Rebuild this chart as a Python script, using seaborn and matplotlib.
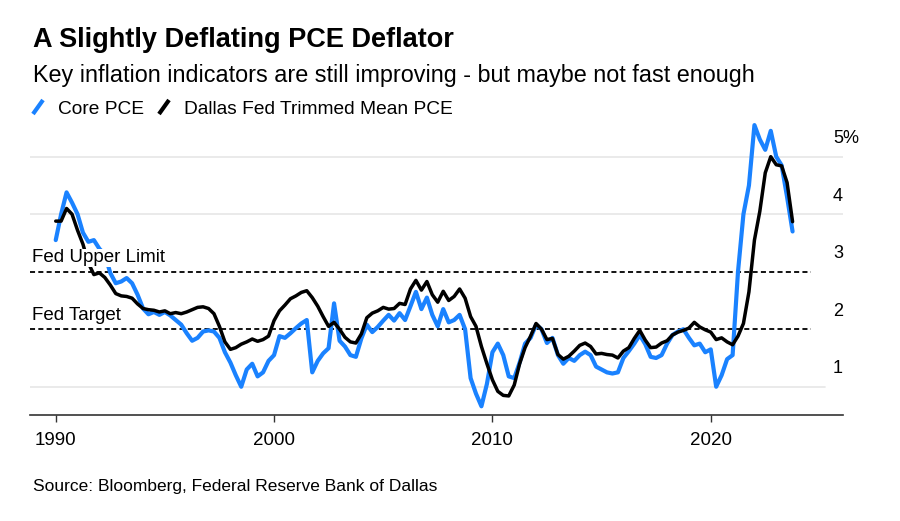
import pandas as pd
import matplotlib.pyplot as plt
import matplotlib.transforms as mtransforms
from matplotlib.lines import Line2D
import seaborn as sns

# quarterly readings, 1990Q1 .. 2023Q4 (year-over-year %)
quarters = pd.date_range('1990-01-01', '2023-10-01', freq='QS')

core_pce = [
    3.55, 4.00, 4.38, 4.20,  # 1990
    4.00, 3.68, 3.52, 3.55,
    3.40, 3.30, 2.98, 2.80,
    2.83, 2.89, 2.80, 2.60,
    2.36, 2.26, 2.30, 2.25,
    2.30, 2.24, 2.16, 2.08,  # 1995
    1.93, 1.80, 1.85, 1.96,
    1.98, 1.96, 1.85, 1.60,
    1.42, 1.20, 1.00, 1.30,
    1.40, 1.18, 1.25, 1.45,
    1.55, 1.88, 1.85, 1.93,  # 2000
    2.02, 2.10, 2.16, 1.25,
    1.45, 1.58, 1.67, 2.45,
    1.80, 1.70, 1.55, 1.52,
    1.84, 2.08, 1.95, 2.04,
    2.15, 2.25, 2.15, 2.28,  # 2005
    2.16, 2.40, 2.65, 2.35,
    2.55, 2.25, 2.05, 2.35,
    2.12, 2.16, 2.25, 2.00,
    1.15, 0.88, 0.66, 1.05,
    1.60, 1.75, 1.55, 1.18,  # 2010
    1.15, 1.42, 1.75, 1.85,
    2.08, 2.00, 1.76, 1.85,
    1.55, 1.40, 1.50, 1.45,
    1.55, 1.61, 1.55, 1.35,
    1.30, 1.25, 1.23, 1.25,  # 2015
    1.50, 1.62, 1.75, 1.90,
    1.74, 1.52, 1.50, 1.55,
    1.75, 1.90, 1.96, 2.00,
    1.85, 1.72, 1.75, 1.60,
    1.65, 1.00, 1.20, 1.48,  # 2020
    1.55, 3.00, 4.00, 4.50,
    5.55, 5.30, 5.12, 5.45,
    5.00, 4.85, 4.30, 3.70,
]

trimmed_mean = [
    3.88, 3.88, 4.10, 4.00,  # 1990
    3.72, 3.48, 3.15, 2.95,
    2.98, 2.90, 2.77, 2.62,
    2.58, 2.57, 2.54, 2.44,
    2.36, 2.34, 2.33, 2.30,
    2.32, 2.27, 2.29, 2.27,  # 1995
    2.30, 2.34, 2.38, 2.39,
    2.36, 2.27, 2.05, 1.78,
    1.65, 1.68, 1.74, 1.78,
    1.83, 1.79, 1.82, 1.88,
    2.15, 2.32, 2.42, 2.53,  # 2000
    2.58, 2.64, 2.67, 2.55,
    2.40, 2.22, 2.05, 2.12,
    2.00, 1.86, 1.78, 1.76,
    1.92, 2.20, 2.28, 2.32,
    2.38, 2.35, 2.36, 2.45,  # 2005
    2.43, 2.70, 2.85, 2.68,
    2.83, 2.60, 2.47, 2.66,
    2.50, 2.57, 2.70, 2.54,
    2.22, 2.05, 1.70, 1.40,
    1.12, 0.92, 0.85, 0.84,  # 2010
    1.03, 1.40, 1.68, 1.88,
    2.10, 2.00, 1.82, 1.84,
    1.56, 1.48, 1.53, 1.62,
    1.72, 1.76, 1.70, 1.57,
    1.58, 1.56, 1.55, 1.50,  # 2015
    1.62, 1.68, 1.84, 1.98,
    1.81, 1.68, 1.69, 1.76,
    1.80, 1.90, 1.95, 1.98,
    2.02, 2.12, 2.04, 1.99,
    1.95, 1.82, 1.85, 1.78,  # 2020
    1.73, 1.88, 2.10, 2.65,
    3.55, 4.05, 4.72, 5.00,
    4.86, 4.84, 4.55, 3.87,
]

ref_levels = [3, 2]
ref_labels = ['Fed Upper Limit', 'Fed Target']
grid_levels = [1, 2, 3, 4, 5]
grid_labels = ['1', '2', '3', '4', '5%']
year_ticks = ['1990', '2000', '2010', '2020']

BLUE = '#1a82ff'

sns.set_style('white')
plt.rcParams['font.family'] = ['Liberation Sans', 'DejaVu Sans']
plt.rcParams['text.color'] = 'black'
plt.rcParams['xtick.color'] = 'black'

df = pd.DataFrame({'date': quarters, 'core': core_pce, 'trim': trimmed_mean})

fig = plt.figure(figsize=(9, 5.21), dpi=100)
ax = fig.add_axes([0.0333, 0.2025, 0.9034, 0.5795])

# light grid + dashed Fed lines
ax.axhline(1, xmax=0.978, color='#e6e6e6', lw=1.2, zorder=0)
for v in [4, 5]:
    ax.axhline(v, color='#e6e6e6', lw=1.2, zorder=0)
for v in ref_levels:
    ax.axhline(v, xmax=0.96, color='black', lw=1.3, ls=(0, (2.8, 1.8)), zorder=1)

sns.lineplot(data=df, x='date', y='core', color=BLUE, lw=3.0, ax=ax, zorder=2)
sns.lineplot(data=df, x='date', y='trim', color='black', lw=2.5, ax=ax, zorder=3)

ax.set_xlim(pd.Timestamp('1988-10-27'), pd.Timestamp('2026-01-22'))
ax.set_ylim(0.5, 5.75)

blend = mtransforms.blended_transform_factory(ax.transAxes, ax.transData)
for v, lab in zip(ref_levels, ref_labels):
    ax.text(0.002, v + 0.24, lab, transform=blend, ha='left', va='center',
            fontsize=13.5, zorder=5,
            bbox=dict(facecolor='white', edgecolor='none', pad=0.5))
for v, lab in zip(grid_levels, grid_labels):
    ax.text(0.9877, v + 0.31, lab, transform=blend, ha='left', va='center',
            fontsize=13)

ax.set_xticks([pd.Timestamp(y + '-01-01') for y in year_ticks])
ax.set_xticklabels(year_ticks, fontsize=13.5)
ax.set_yticks([])
ax.set_xlabel('')
ax.set_ylabel('')
ax.tick_params(axis='x', length=5, width=1, color='#333333', pad=7, bottom=True)
for s in ['top', 'left', 'right']:
    ax.spines[s].set_visible(False)
ax.spines['bottom'].set_color('#333333')
ax.spines['bottom'].set_linewidth(1.2)

# titles
fig.text(33 / 900, 1 - 47 / 521, 'A Slightly Deflating PCE Deflator',
         fontsize=19.5, fontweight='bold', va='baseline', ha='left')
fig.text(33 / 900, 1 - 82 / 521,
         'Key inflation indicators are still improving - but maybe not fast enough',
         fontsize=16.8, va='baseline', ha='left')

# legend with slash markers
for x0, col, lab, tx in [(33, BLUE, 'Core PCE', 58),
                         (159, 'black', 'Dallas Fed Trimmed Mean PCE', 184)]:
    fig.add_artist(Line2D([x0 / 900, (x0 + 10) / 900], [1 - 114 / 521, 1 - 100 / 521],
                          transform=fig.transFigure, color=col, lw=3,
                          solid_capstyle='butt'))
    fig.text(tx / 900, 1 - 114 / 521, lab, fontsize=13.8, va='baseline', ha='left')

fig.text(33 / 900, 1 - 491 / 521, 'Source: Bloomberg, Federal Reserve Bank of Dallas',
         fontsize=12.5, va='baseline', ha='left')

fig.savefig('out.png', dpi=100)
